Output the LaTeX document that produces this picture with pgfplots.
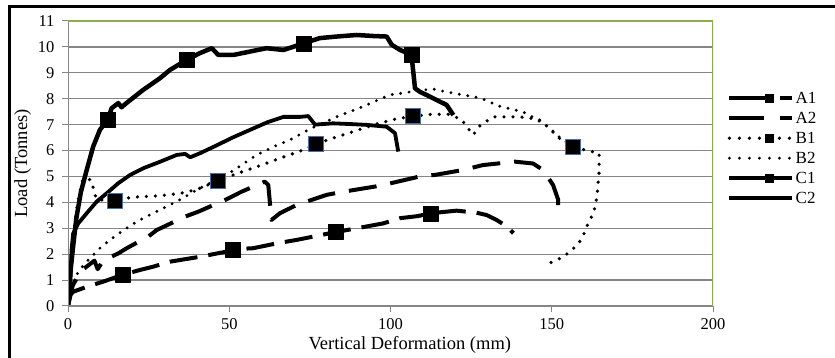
\documentclass[border=0pt]{standalone}
\usepackage{fontspec}
\setmainfont{Liberation Serif}
\usepackage{pgfplots}
\pgfplotsset{compat=1.18}
\definecolor{gridgray}{RGB}{134,134,134}
\definecolor{xlgreen}{RGB}{140,172,80}
\definecolor{mkblue}{RGB}{70,110,170}
\pgfplotsset{
  legA1/.style={legend image code/.code={\draw[##1, dash pattern=on 43pt off 8pt on 12pt off 100pt] (0pt,0pt) -- (63pt,0pt); \path[fill=black, draw=none] (35.5pt,-4.5pt) rectangle (44.5pt,4.5pt);}},
  legA2/.style={legend image code/.code={\draw[##1, dash pattern=on 35pt off 16pt on 12pt off 100pt] (0pt,0pt) -- (63pt,0pt);}},
  legB1/.style={legend image code/.code={\draw[##1, dash pattern=on 0pt off 10pt] (0pt,0pt) -- (63pt,0pt); \path[fill=black, draw=none] (35.5pt,-4.5pt) rectangle (44.5pt,4.5pt);}},
  legB2/.style={legend image code/.code={\draw[##1, dash pattern=on 0pt off 10pt] (0pt,0pt) -- (63pt,0pt);}},
  legC1/.style={legend image code/.code={\draw[##1] (0pt,0pt) -- (63pt,0pt); \path[fill=black, draw=none] (35.5pt,-4.5pt) rectangle (44.5pt,4.5pt);}},
  legC2/.style={legend image code/.code={\draw[##1] (0pt,0pt) -- (63pt,0pt);}},
}
\begin{document}
\begin{tikzpicture}
\useasboundingbox (-68pt,-52pt) rectangle (767pt,306pt);
\draw[line width=3pt] (-58pt,-70pt) -- (-58pt,299pt) -- (800pt,299pt);
\begin{axis}[
  at={(0pt,0pt)}, anchor=south west,
  scale only axis, width=645pt, height=285pt,
  xmin=0, xmax=200, ymin=0, ymax=11,
  xtick={0,50,100,150,200}, ytick={0,1,2,3,4,5,6,7,8,9,10,11},
  axis line style={draw=none},
  xtick pos=bottom, ytick pos=left,
  tick align=outside, major tick length=6pt,
  tick style={gridgray, line width=1pt},
  ymajorgrids, major grid style={gridgray, line width=1.2pt},
  /pgf/number format/assume math mode=true,
  ticklabel style={font=\fontsize{16.5}{18}\selectfont},
  xticklabel style={yshift=-3pt},
  yticklabel style={xshift=-4pt},
  xlabel={Vertical Deformation (mm)},
  ylabel={Load (Tonnes)},
  label style={font=\fontsize{18.5}{20}\selectfont},
  xlabel style={at={(axis description cs:0.53,0)}, anchor=north, yshift=-27pt},
  ylabel style={yshift=0pt},
  legend style={at={(1.0217,0.765)}, anchor=north west, draw=none, fill=none,
    font=\fontsize{17}{18}\selectfont, inner sep=0pt, row sep=0pt,
    nodes={inner sep=1pt, text height=14pt, text depth=4pt},
    cells={anchor=west}},
  line join=round,
]
% A1
\addplot[black, line width=4pt, dash pattern=on 28pt off 11pt, legA1]
coordinates {(0,0)(0.5,0.4)(1.6,0.55)(5.8,0.74)(10.9,0.94)(16.9,1.2)(22.3,1.39)(26.5,1.52)(31.6,1.71)(40.9,1.9)(49.2,2.1)(51.2,2.19)(57.4,2.23)(65.2,2.43)(70.9,2.55)(76.1,2.68)(82.9,2.85)(92.6,3.07)(97.8,3.19)(103,3.39)(108.5,3.47)(112.4,3.58)(120.5,3.68)(126.7,3.6)(129.8,3.51)(132.9,3.32)(136.1,3.07)(138.1,2.81)};
\addlegendentry{A1}
% A2
\addplot[black, line width=4pt, dash pattern=on 28pt off 14pt, legA2]
coordinates {(0,0)(1.5,0.8)(4,1.35)(8.2,1.75)(9.2,1.42)(10.9,1.75)(15.6,2.03)(18.2,2.23)(24.9,2.68)(27.5,2.93)(36.3,3.45)(40.4,3.64)(49.2,4.12)(53.8,4.41)(61,4.8)(62.1,4.67)(63.1,3.32)(65.7,3.58)(70.9,3.9)(80.2,4.29)(85.3,4.41)(95.2,4.61)(99.8,4.73)(109.1,5.0)(113.8,5.06)(122.5,5.25)(128.7,5.44)(138.6,5.57)(144.2,5.5)(147.3,5.25)(150.4,4.67)(152,4.1)(152,3.8)};
\addlegendentry{A2}
% B1
\addplot[black, line width=3.6pt, line cap=round, dash pattern=on 0pt off 9pt, legB1]
coordinates {(0,0)(1,1.5)(2,3)(3,4)(4.5,4.85)(6,4.95)(7.5,4.8)(8,4.4)(9,4.1)(14.6,4.07)(20,4.2)(28,4.25)(35,4.35)(40,4.5)(43,4.65)(46.6,4.84)(53.3,5.15)(60,5.44)(65.7,5.7)(72,5.98)(76.9,6.25)(81.2,6.44)(88.4,6.73)(95,7.0)(101,7.2)(107,7.33)(113,7.4)(118,7.4)(122,7.2)(125.6,6.6)(128,7.0)(132,7.3)(140,7.3)(146,7.2)(149,6.9)(152,6.5)(156.6,6.15)(161,6.0)(164.7,5.9)(164.7,5.2)(164,4.2)(163,3.6)(161.3,3.2)(159.4,2.6)(157.8,2.35)(155.7,2.1)(153.5,1.9)(151,1.74)(148.5,1.62)};
\addlegendentry{B1}
% B2
\addplot[black, line width=3.2pt, line cap=round, dash pattern=on 0pt off 8.5pt, legB2]
coordinates {(0,0)(1,0.7)(2,1.0)(3.2,1.32)(5.3,1.65)(7.3,1.9)(9.9,2.23)(13,2.55)(16.6,2.87)(19.7,3.13)(23.3,3.39)(27.5,3.65)(31.6,3.9)(35.7,4.17)(39.9,4.48)(44,4.74)(49.2,5.06)(53.8,5.44)(58.5,5.83)(63.6,6.14)(68.8,6.41)(75.6,6.87)(83.3,7.3)(91.5,7.7)(99.8,8.15)(106,8.26)(112.9,8.38)(120,8.2)(127.8,8.03)(134,7.7)(141,7.5)(144,7.3)(149,6.9)(152.5,6.5)(156,6.2)};
\addlegendentry{B2}
% C1
\addplot[black, line width=4.5pt, legC1]
coordinates {(0,0)(0.5,1.0)(1.5,2.2)(2.6,3.4)(4,4.4)(5.8,5.25)(7.8,6.15)(9.9,6.8)(12.4,7.2)(13.5,7.63)(15.6,7.83)(16.6,7.67)(18.1,7.83)(23.3,8.34)(28.5,8.79)(31.6,9.11)(36.8,9.5)(40.9,9.76)(44.6,9.95)(46.6,9.69)(51.3,9.69)(56.4,9.82)(61.6,9.95)(66.8,9.88)(70,10.01)(73,10.14)(78.1,10.34)(83.3,10.4)(89.5,10.46)(94.7,10.42)(98.8,10.4)(100.4,10.08)(103,9.88)(106.5,9.7)(107.6,8.4)(109.1,8.27)(113.2,8.02)(117.4,7.76)(119.5,7.37)};
\addlegendentry{C1}
% C2
\addplot[black, line width=3.8pt, legC2]
coordinates {(0,0)(0.6,0.4)(1.1,2.16)(1.6,2.8)(3.2,3.19)(5.8,3.58)(8.9,4.03)(12,4.35)(15.6,4.74)(19.3,5.06)(23.4,5.32)(28.6,5.57)(33.7,5.83)(36.3,5.87)(37.9,5.74)(41,5.9)(46.1,6.2)(51,6.5)(57.4,6.85)(62,7.1)(66.8,7.3)(72,7.3)(74.5,7.33)(76.6,7.0)(82.2,7.05)(88,7.02)(92.6,6.99)(98.8,6.92)(101.4,6.67)(102.4,5.96)};
\addlegendentry{C2}
% markers
\addplot[only marks, mark=square*, mark size=7.5pt, mark options={fill=black, draw=black}, forget plot]
coordinates {(16.9,1.2)(51.2,2.19)(82.9,2.85)(112.4,3.58)};
\addplot[only marks, mark=square*, mark size=7.5pt, mark options={fill=black, draw=mkblue, line width=0.8pt}, forget plot]
coordinates {(14.6,4.07)(46.6,4.84)(76.9,6.25)(107,7.33)(156.6,6.15)};
\addplot[only marks, mark=square*, mark size=7.5pt, mark options={fill=black, draw=black}, forget plot]
coordinates {(12.4,7.2)(36.8,9.5)(73,10.14)(106.5,9.7)};
% axis frame
\draw[gridgray, line width=1.2pt] (rel axis cs:0,1) -- (rel axis cs:0,0) -- (rel axis cs:1,0);
\draw[xlgreen, line width=1.2pt] (rel axis cs:0,1) -- (rel axis cs:1,1) -- (rel axis cs:1,0);
\end{axis}
\end{tikzpicture}
\end{document}
